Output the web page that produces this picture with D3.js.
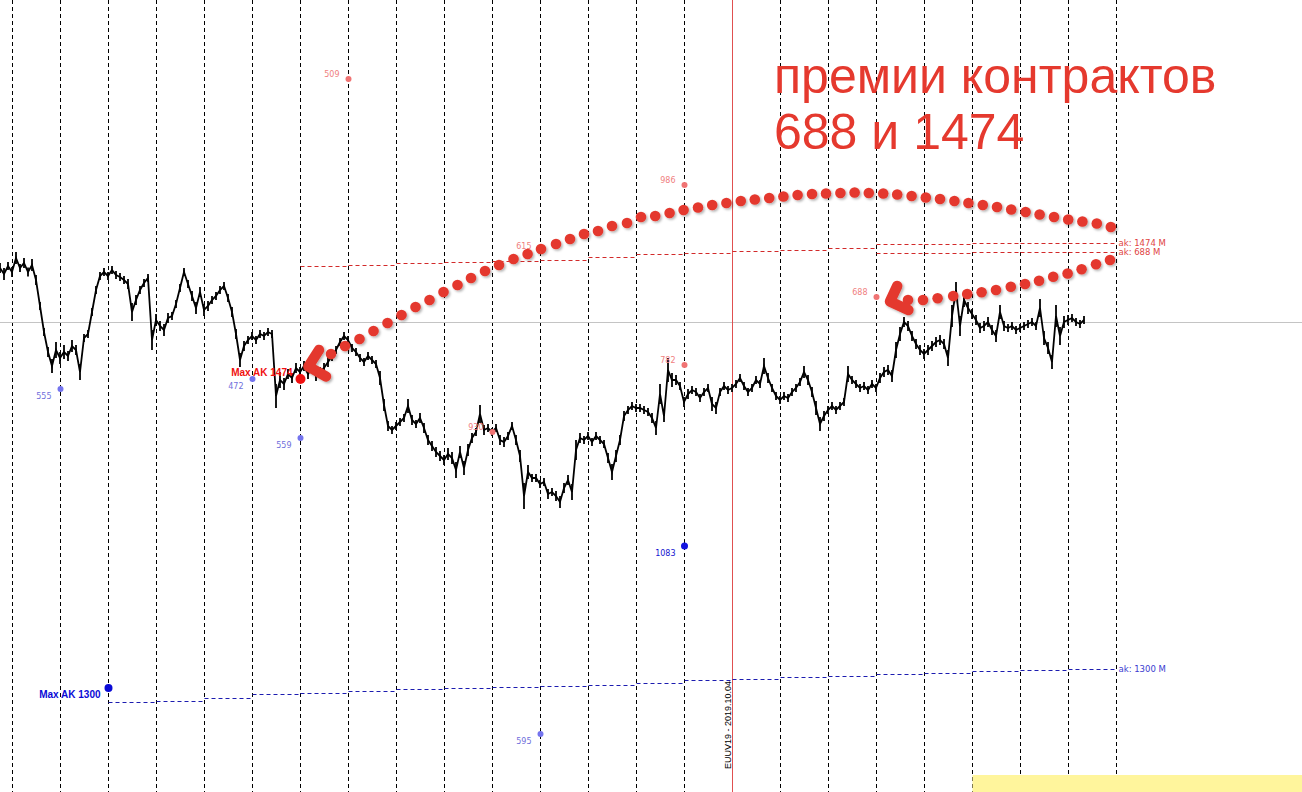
<!DOCTYPE html>
<html><head><meta charset="utf-8">
<script src="https://cdn.jsdelivr.net/npm/d3@7"></script>
<style>html,body{margin:0;padding:0;background:#fff;overflow:hidden}svg{display:block}</style>
</head><body>
<svg id="chart" width="1302" height="792"></svg>
<script>
// ---- DATA ----
// trading sessions (dashed vertical separators)
const sessionDates = ["2019.09.13","2019.09.16","2019.09.17","2019.09.18","2019.09.19","2019.09.20",
  "2019.09.23","2019.09.24","2019.09.25","2019.09.26","2019.09.27","2019.09.30","2019.10.01",
  "2019.10.02","2019.10.03","2019.10.04","2019.10.07","2019.10.08","2019.10.09","2019.10.10",
  "2019.10.11","2019.10.14","2019.10.15","2019.10.16"];
const barsPerSession = 12;
const firstSessionBar = 3.125;
const expirySession = 15;
const expiryLabel = "EUUV19 - 2019.10.04";
const referencePrice = 677.5;

// price (points), one value per bar
const priceValues = [
732,726,734,728,742,732,737,728,735,720,
694,668,648,634,650,642,648,644,654,650,
628,662,666,688,710,724,728,724,730,725,
723,720,716,688,700,710,717,722,660,680,
674,670,682,684,696,712,728,716,704,692,
708,690,694,700,704,710,714,702,688,666,
640,654,660,664,660,666,664,668,666,604,
620,616,626,622,632,628,634,626,632,624,
628,632,638,644,650,658,664,660,652,648,
642,638,644,640,636,622,595,574,570,574,
578,582,594,580,576,582,572,560,554,548,
544,540,546,542,530,548,532,550,562,568,
586,570,572,568,572,560,558,564,574,560,
544,504,528,522,522,516,518,506,508,504,
498,512,520,508,550,562,560,564,558,564,
560,556,542,528,544,560,584,590,594,592,
592,590,588,582,572,606,584,630,620,620,
614,598,606,610,608,602,608,612,596,592,
608,614,610,612,616,622,614,608,612,620,
616,634,622,612,604,600,604,602,608,612,
618,628,620,608,592,576,584,590,594,590,
594,598,626,620,616,612,614,610,616,612,
622,628,630,624,650,666,678,674,664,656,
650,646,650,654,658,660,656,642,684,710,
674,700,692,686,680,672,674,678,670,664,
688,674,672,674,670,672,674,676,678,674,
692,662,652,638,684,664,678,680,682,678,
676,680];
// high-low spread of each bar (points)
const priceSpread = [
10,12,8,10,12,8,10,9,12,10,
8,8,10,14,16,12,14,10,12,10,
16,8,8,8,8,8,8,8,8,8,
8,8,10,18,10,8,8,8,20,12,
10,12,10,8,8,8,8,8,10,12,
10,12,10,8,8,8,8,8,10,10,
14,10,8,8,8,8,8,8,8,24,
16,12,10,10,10,10,10,10,10,10,
10,10,10,10,8,8,8,8,8,8,
8,8,8,8,8,14,12,10,8,8,
8,8,14,10,8,10,10,10,10,10,
10,10,12,12,16,12,14,12,10,8,
18,10,8,8,8,10,10,8,8,10,
12,26,14,8,8,8,8,10,8,10,
12,10,10,16,20,10,8,8,8,8,
8,8,10,16,12,10,10,8,8,8,
8,8,8,10,14,20,12,24,14,10,
8,10,10,8,8,8,8,8,14,12,
8,8,8,8,8,8,8,8,8,8,
8,16,10,8,8,8,8,8,8,8,
8,12,10,10,14,14,10,8,8,8,
8,8,16,8,8,8,8,8,8,8,
10,10,10,12,16,14,10,10,10,10,
10,10,10,10,10,10,10,16,22,16,
20,14,12,10,10,10,10,10,10,12,
14,10,8,8,8,8,8,8,8,8,
18,14,12,14,22,18,12,10,8,8,
8,8];

// option strike markers
const markerLabels   = ["555","472","559","509","930","615","595","986","782","1083","688"];
const markerSessions = [1,5,6,7,10,11,11,14,14,14,18];
const markerPrices   = [611,621,562,921,568,749,266,815,635,454,703];
const markerKinds    = ["put","put","put","call","call","call","put","call","call","deep","call"];

// max open interest markers
const maxLabels   = ["Max AK 1300","Max AK 1474"];
const maxSessions = [2,6];
const maxPrices   = [312,621];
const maxKinds    = ["blue","red"];

// "ak" level lines: one level per session
const akNames  = ["ak: 1474 M","ak: 688 M","ak: 1300 M"];
const akStarts = [6,18,2];
const ak1474Levels = [734,735,737,738,739,740,743,746,747,749,750,752,756,756,757,757,757.5];
const ak688Levels  = [747,747,747.5,747.5,747.7];
const ak1300Levels = [298,299,302,306,307,309,311,312,313,314,315,317,320,321,323,324,326,327,329,330,331];

// hand-drawn annotation: dotted arcs (bar, price)
const upperArcBars = [82.75,86.25,89.875,93.375,96.875,100.375,103.875,107.375,110.875,114.375,117.75,121.25,
  124.75,128.375,131.9,135.25,139,142.5,146,149.5,153,156.75,160.25,163.8,167.4,170.9,174.5,178.05,181.6,185.2,
  188.7,192.3,195.85,199.4,203,206.5,210.1,213.65,217.2,220.8,224.3,227.9,231.45,235,238.6,242.1,245.7,249.25,
  252.8,256.4,259.9,263.5,267.05,270.6,274.2,277.7];
const upperArcPrices = [646,654,661,669,677,685,693,700,708,715,722,729,
  735,741,746,751,756,761,766,769,774,777,783,784,787,790,792.5,795,797,799,
  800.5,802,803.5,805,806,806.5,807,807.5,807,806.5,805.5,804,802.5,801,799,797,795,793,
  790.5,788,785.5,783,780.5,778.5,776.5,773];
const lowerArcBars   = [227,230.75,234.4,238.3,241.8,245.4,249,252.7,256.25,259.75,263.3,266.9,270.4,274,277.5];
const lowerArcPrices = [700,700,701.7,704,706,707.7,710,713.3,716,719.3,723.3,726.5,730.7,735.7,740];
const upperArrowBars = [79.75,77.1,81.5];
const upperArrowPrices = [650,633.5,623.5];
const lowerArrowBars = [224.3,222.5,227.1];
const lowerArrowPrices = [714,698.5,690];

const titleLines = ["премии контрактов","688 и 1474"];

// ---- CHART ----
const W = 1302, H = 792;
const svg = d3.select("#chart");
const x = d3.scaleLinear().domain([0, 325.5]).range([0, W]);
const y = d3.scaleLinear().domain([1000, 208]).range([0, H]);
const sessionBar = k => firstSessionBar + k * barsPerSession;

const defs = svg.append("defs");
const f = defs.append("filter").attr("id","shadow").attr("x","-50%").attr("y","-50%").attr("width","200%").attr("height","200%");
f.append("feDropShadow").attr("dx",1.5).attr("dy",1.5).attr("stdDeviation",1).attr("flood-color","#000").attr("flood-opacity",0.3);

svg.append("rect").attr("width",W).attr("height",H).attr("fill","#fff");

// session separators
svg.append("g").selectAll("line").data(sessionDates.map((d,i)=>i).filter(i=>i!==expirySession))
  .join("line")
  .attr("x1",k=>x(sessionBar(k))).attr("x2",k=>x(sessionBar(k)))
  .attr("y1",0).attr("y2",H)
  .attr("stroke","#000").attr("stroke-width",1).attr("stroke-dasharray","4,3");

// reference horizontal line
svg.append("line").attr("x1",0).attr("x2",W).attr("y1",y(referencePrice)).attr("y2",y(referencePrice))
  .attr("stroke","#c4c4c4").attr("stroke-width",1);

// expiry line
svg.append("line").attr("x1",x(sessionBar(expirySession))).attr("x2",x(sessionBar(expirySession)))
  .attr("y1",0).attr("y2",H).attr("stroke","#e05050").attr("stroke-width",1);
svg.append("text")
  .attr("transform",`translate(${x(sessionBar(expirySession))-1.5},${H-23}) rotate(-90)`)
  .attr("font-family","Liberation Sans, Arial, sans-serif").attr("font-size",9).attr("fill","#000")
  .text(expiryLabel);

// ak level lines
const akLevels = [ak1474Levels, ak688Levels, ak1300Levels];
const akColors = ["#d22a2a","#d22a2a","#1c1cb0"];
const akTextColors = ["#e04444","#e04444","#3b3bd0"];
akLevels.forEach((levels, j) => {
  const g = svg.append("g");
  g.selectAll("line").data(levels).join("line")
    .attr("x1",(d,i)=>x(sessionBar(akStarts[j]+i))).attr("x2",(d,i)=>x(sessionBar(akStarts[j]+i+1)))
    .attr("y1",d=>Math.round(y(d))+0.5).attr("y2",d=>Math.round(y(d))+0.5)
    .attr("stroke",akColors[j]).attr("stroke-width",1).attr("stroke-dasharray","4,3");
  const last = levels[levels.length-1];
  g.append("text").attr("x",x(sessionBar(akStarts[j]+levels.length))+2).attr("y",y(last)+3)
    .attr("font-family","DejaVu Sans, sans-serif").attr("font-size",8.5).attr("fill",akTextColors[j])
    .text(akNames[j]);
});

// yellow status panel
svg.append("rect").attr("x",x(sessionBar(20))).attr("y",y(225)).attr("width",W-x(sessionBar(20))).attr("height",H-y(225))
  .attr("fill","#fff59c");

// price series: high-low spread + line
const pg = svg.append("g");
pg.selectAll("line").data(priceValues).join("line")
  .attr("x1",(d,i)=>x(i)).attr("x2",(d,i)=>x(i))
  .attr("y1",(d,i)=>y(d+priceSpread[i]/2)).attr("y2",(d,i)=>y(d-priceSpread[i]/2))
  .attr("stroke","#000").attr("stroke-width",1.8);
pg.append("path").datum(priceValues)
  .attr("d",d3.line().x((d,i)=>x(i)).y(d=>y(d)))
  .attr("fill","none").attr("stroke","#000").attr("stroke-width",1.8).attr("stroke-linejoin","miter");

// strike markers
const kindColor = {put:"#7474ee", call:"#f07474", deep:"#1414e0"};
const kindText  = {put:"#6f6fdc", call:"#f08080", deep:"#1414d0"};
const mg = svg.append("g").attr("font-family","DejaVu Sans, sans-serif").attr("font-size",8);
markerLabels.forEach((lab,i)=>{
  const cx = x(sessionBar(markerSessions[i])), cy = y(markerPrices[i]);
  const k = markerKinds[i];
  mg.append("circle").attr("cx",cx).attr("cy",cy).attr("r",k==="deep"?3.5:3).attr("fill",kindColor[k]);
  mg.append("text").attr("x",cx-9).attr("y",k==="call"?cy-2:cy+10).attr("text-anchor","end")
    .attr("fill",kindText[k]).text(lab);
});

// max OI markers
const maxColor = {blue:"#0a0ad6", red:"#f01010"};
maxLabels.forEach((lab,i)=>{
  const cx = x(sessionBar(maxSessions[i])), cy = y(maxPrices[i]);
  const k = maxKinds[i];
  svg.append("circle").attr("cx",cx).attr("cy",cy).attr("r",k==="red"?5:4).attr("fill",maxColor[k]);
  svg.append("text").attr("x",cx-8).attr("y",k==="red"?cy-3:cy+10).attr("text-anchor","end")
    .attr("font-family","Liberation Sans, Arial, sans-serif").attr("font-weight","bold").attr("font-size",10)
    .attr("fill",maxColor[k]).text(lab);
});

// annotation: arrows and dotted arcs
const annColor = "#e4392e";
const ann = svg.append("g").attr("filter","url(#shadow)");
[[upperArrowBars,upperArrowPrices],[lowerArrowBars,lowerArrowPrices]].forEach(([bs,ps])=>{
  ann.append("path").datum(bs.map((b,i)=>[b,ps[i]]))
    .attr("d",d3.line().x(d=>x(d[0])).y(d=>y(d[1])))
    .attr("fill","none").attr("stroke",annColor).attr("stroke-width",10.5)
    .attr("stroke-linecap","round").attr("stroke-linejoin","round");
});
[[upperArcBars,upperArcPrices],[lowerArcBars,lowerArcPrices]].forEach(([bs,ps])=>{
  ann.selectAll(null).data(bs).join("circle")
    .attr("cx",d=>x(d)).attr("cy",(d,i)=>y(ps[i])).attr("r",5.3).attr("fill",annColor);
});

// title annotation
const tg = svg.append("g").attr("font-family","Liberation Sans, Arial, sans-serif").attr("font-size",50).attr("fill","#e5392e");
titleLines.forEach((t,i)=>{
  tg.append("text").attr("x",774).attr("y",93+i*56).text(t);
});
</script>
</body></html>
